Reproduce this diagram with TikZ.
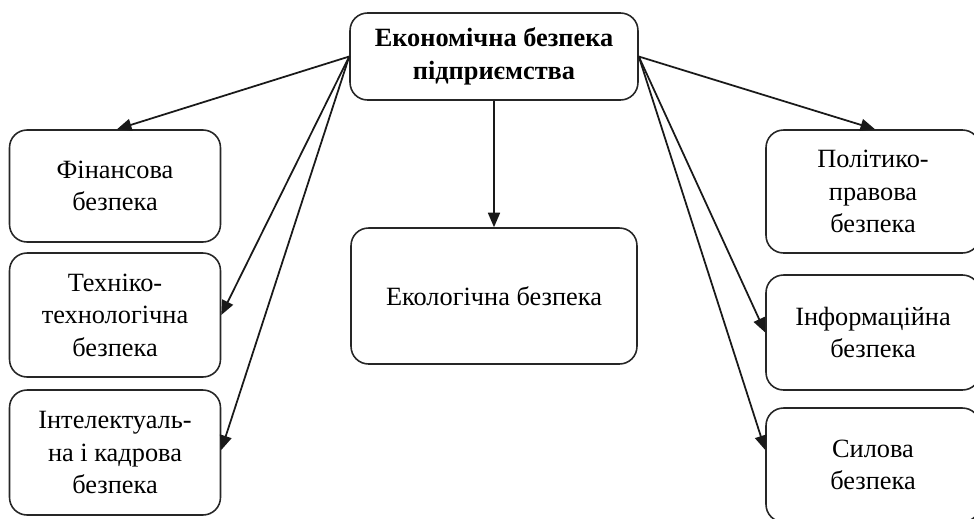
\documentclass[tikz,border=0pt]{standalone}
\usepackage{fontspec}
\setmainfont{Liberation Serif}
\usetikzlibrary{arrows.meta}
\begin{document}
\begin{tikzpicture}[x=0.02cm,y=-0.02cm,
  box/.style={draw=black!85, line width=0.9pt, rounded corners=0.35cm, align=center,
    font=\fontsize{15}{18.5}\selectfont, inner sep=2pt},
  arr/.style={draw=black!90, line width=1pt, -{Triangle[length=2.9mm,width=2.4mm]}}]
\clip (0,0) rectangle (974,518);
\node[box, font=\bfseries\fontsize{15}{18.5}\selectfont, minimum width=5.76cm, minimum height=1.74cm] (top) at (494,56.5) {Економічна безпека\\підприємства};
\node[box, minimum width=4.22cm, minimum height=2.24cm] (fin) at (115,186) {Фінансова\\безпека};
\node[box, minimum width=4.22cm, minimum height=2.48cm] (tech) at (115,315) {Техніко-\\технологічна\\безпека};
\node[box, minimum width=4.22cm, minimum height=2.5cm] (int) at (115,452.5) {Інтелектуаль-\\на і кадрова\\безпека};
\node[box, minimum width=5.72cm, minimum height=2.72cm] (eco) at (494,296) {Екологічна безпека};
\node[box, minimum width=4.28cm, minimum height=2.46cm] (pol) at (873,191.5) {Політико-\\правова\\безпека};
\node[box, minimum width=4.28cm, minimum height=2.3cm] (inf) at (873,332.5) {Інформаційна\\безпека};
\node[box, minimum width=4.28cm, minimum height=2.28cm] (sil) at (873,465) {Силова\\безпека};
\draw[arr] (top.west) -- ([xshift=0.04cm]fin.north);
\draw[arr] (top.west) -- (tech.east);
\draw[arr] (top.west) -- ([yshift=0.05cm]int.east);
\draw[arr] (top.south) -- (eco.north);
\draw[arr] (top.east) -- ([xshift=0.04cm]pol.north);
\draw[arr] (top.east) -- (inf.west);
\draw[arr] (top.east) -- ([yshift=0.3cm]sil.west);
\end{tikzpicture}
\end{document}
